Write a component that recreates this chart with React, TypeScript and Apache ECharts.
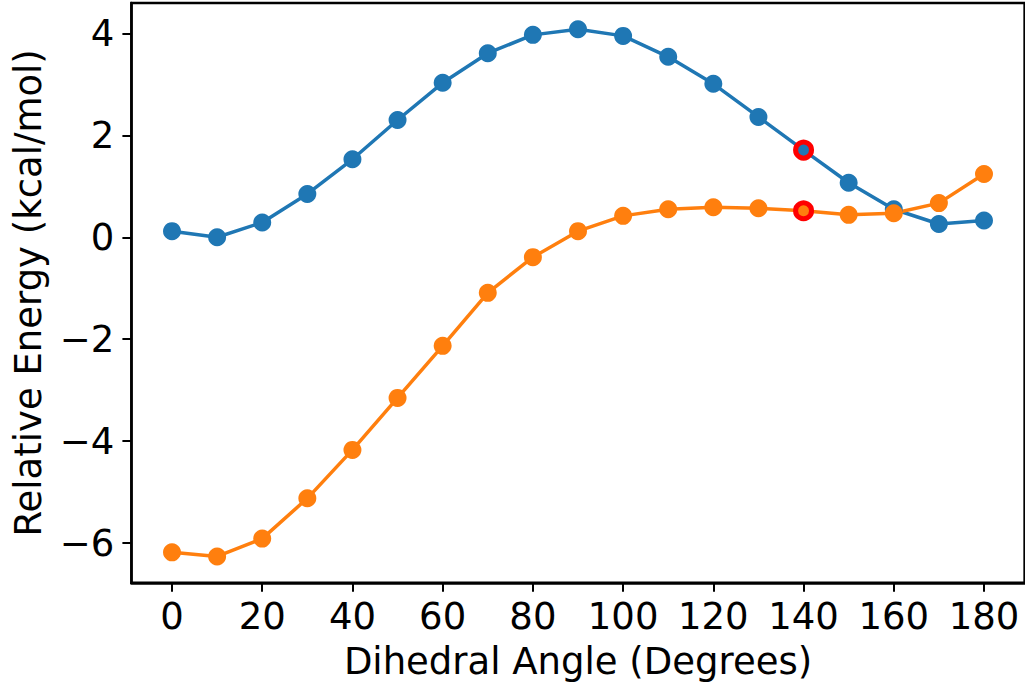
import React, { useEffect, useRef } from "react";
import * as echarts from "echarts";

// Dihedral scan, angles in degrees
const angles = [0, 10, 20, 30, 40, 50, 60, 70, 80, 90, 100, 110, 120, 130, 140, 150, 160, 170, 180];

// Relative energies (kcal/mol)
const seriesA = [0.12, 0.0, 0.29, 0.85, 1.53, 2.3, 3.03, 3.61, 3.97, 4.08, 3.95, 3.54, 3.01, 2.36, 1.71, 1.07, 0.55, 0.26, 0.33];
const seriesB = [-6.18, -6.26, -5.91, -5.12, -4.17, -3.15, -2.13, -1.09, -0.39, 0.12, 0.42, 0.55, 0.59, 0.57, 0.52, 0.44, 0.47, 0.67, 1.24];

// Highlighted angle (ringed in red on both curves)
const highlightAngle = 140;

const xTicks = [0, 20, 40, 60, 80, 100, 120, 140, 160, 180];
const yTicks = [-6, -4, -2, 0, 2, 4];

const xTitle = "Dihedral Angle (Degrees)";
const yTitle = "Relative Energy (kcal/mol)";

const FONT = "DejaVu Sans";
const BLUE = "#1f77b4";
const ORANGE = "#ff7f0e";
const RED = "#ff0000";

function withPadding(lo: number, hi: number) {
  const pad = (hi - lo) * 0.05;
  return [lo - pad, hi + pad];
}

function buildData(values: number[]) {
  return angles.map((a, i) => {
    if (a === highlightAngle) {
      return {
        value: [a, values[i]],
        symbolSize: 16,
        itemStyle: { borderColor: RED, borderWidth: 5 },
      };
    }
    return { value: [a, values[i]] };
  });
}

const minus = (v: number) => (v < 0 ? "\u2212" + Math.abs(v) : String(v));

export default function App() {
  const ref = useRef<HTMLDivElement>(null);

  useEffect(() => {
    if (!ref.current) return;
    const chart = echarts.init(ref.current, null, { renderer: "svg" });

    const [xMin, xMax] = withPadding(Math.min(...angles), Math.max(...angles));
    const all = [...seriesA, ...seriesB];
    const [yMin, yMax] = withPadding(Math.min(...all), Math.max(...all));

    const tickStyle = { show: true, inside: false, length: 9, lineStyle: { color: "#000", width: 2 } };
    const labelStyle = { color: "#000", fontFamily: FONT, fontSize: 37 };

    chart.setOption({
      animation: false,
      backgroundColor: "#fff",
      grid: {
        left: 131.4,
        right: 0.4,
        top: 2.9,
        bottom: 108.2,
        show: true,
        borderColor: "#000",
        borderWidth: 2.5,
        backgroundColor: "transparent",
      },
      xAxis: {
        type: "value",
        min: xMin,
        max: xMax,
        name: xTitle,
        nameLocation: "middle",
        nameGap: 60,
        nameTextStyle: { ...labelStyle },
        axisLine: { show: true, onZero: false, lineStyle: { color: "#000", width: 2.5 } },
        axisTick: { ...tickStyle, customValues: xTicks },
        axisLabel: { ...labelStyle, margin: 15, customValues: xTicks, formatter: minus },
        splitLine: { show: false },
      },
      yAxis: {
        type: "value",
        min: yMin,
        max: yMax,
        name: yTitle,
        nameLocation: "middle",
        nameGap: 84,
        nameRotate: 90,
        nameTextStyle: { ...labelStyle },
        axisLine: { show: true, onZero: false, lineStyle: { color: "#000", width: 2.5 } },
        axisTick: { ...tickStyle, customValues: yTicks },
        axisLabel: { ...labelStyle, margin: 17, customValues: yTicks, formatter: minus },
        splitLine: { show: false },
      },
      series: [
        {
          type: "line",
          data: buildData(seriesA),
          symbol: "circle",
          symbolSize: 18,
          showAllSymbol: true,
          lineStyle: { color: BLUE, width: 3.5 },
          itemStyle: { color: BLUE },
          emphasis: { disabled: true },
        },
        {
          type: "line",
          data: buildData(seriesB),
          symbol: "circle",
          symbolSize: 18,
          showAllSymbol: true,
          lineStyle: { color: ORANGE, width: 3.5 },
          itemStyle: { color: ORANGE },
          emphasis: { disabled: true },
        },
      ],
    });

    return () => chart.dispose();
  }, []);

  return (
    <div
      ref={ref}
      style={{ position: "fixed", left: 0, top: 0, width: 1025, height: 691 }}
    />
  );
}
